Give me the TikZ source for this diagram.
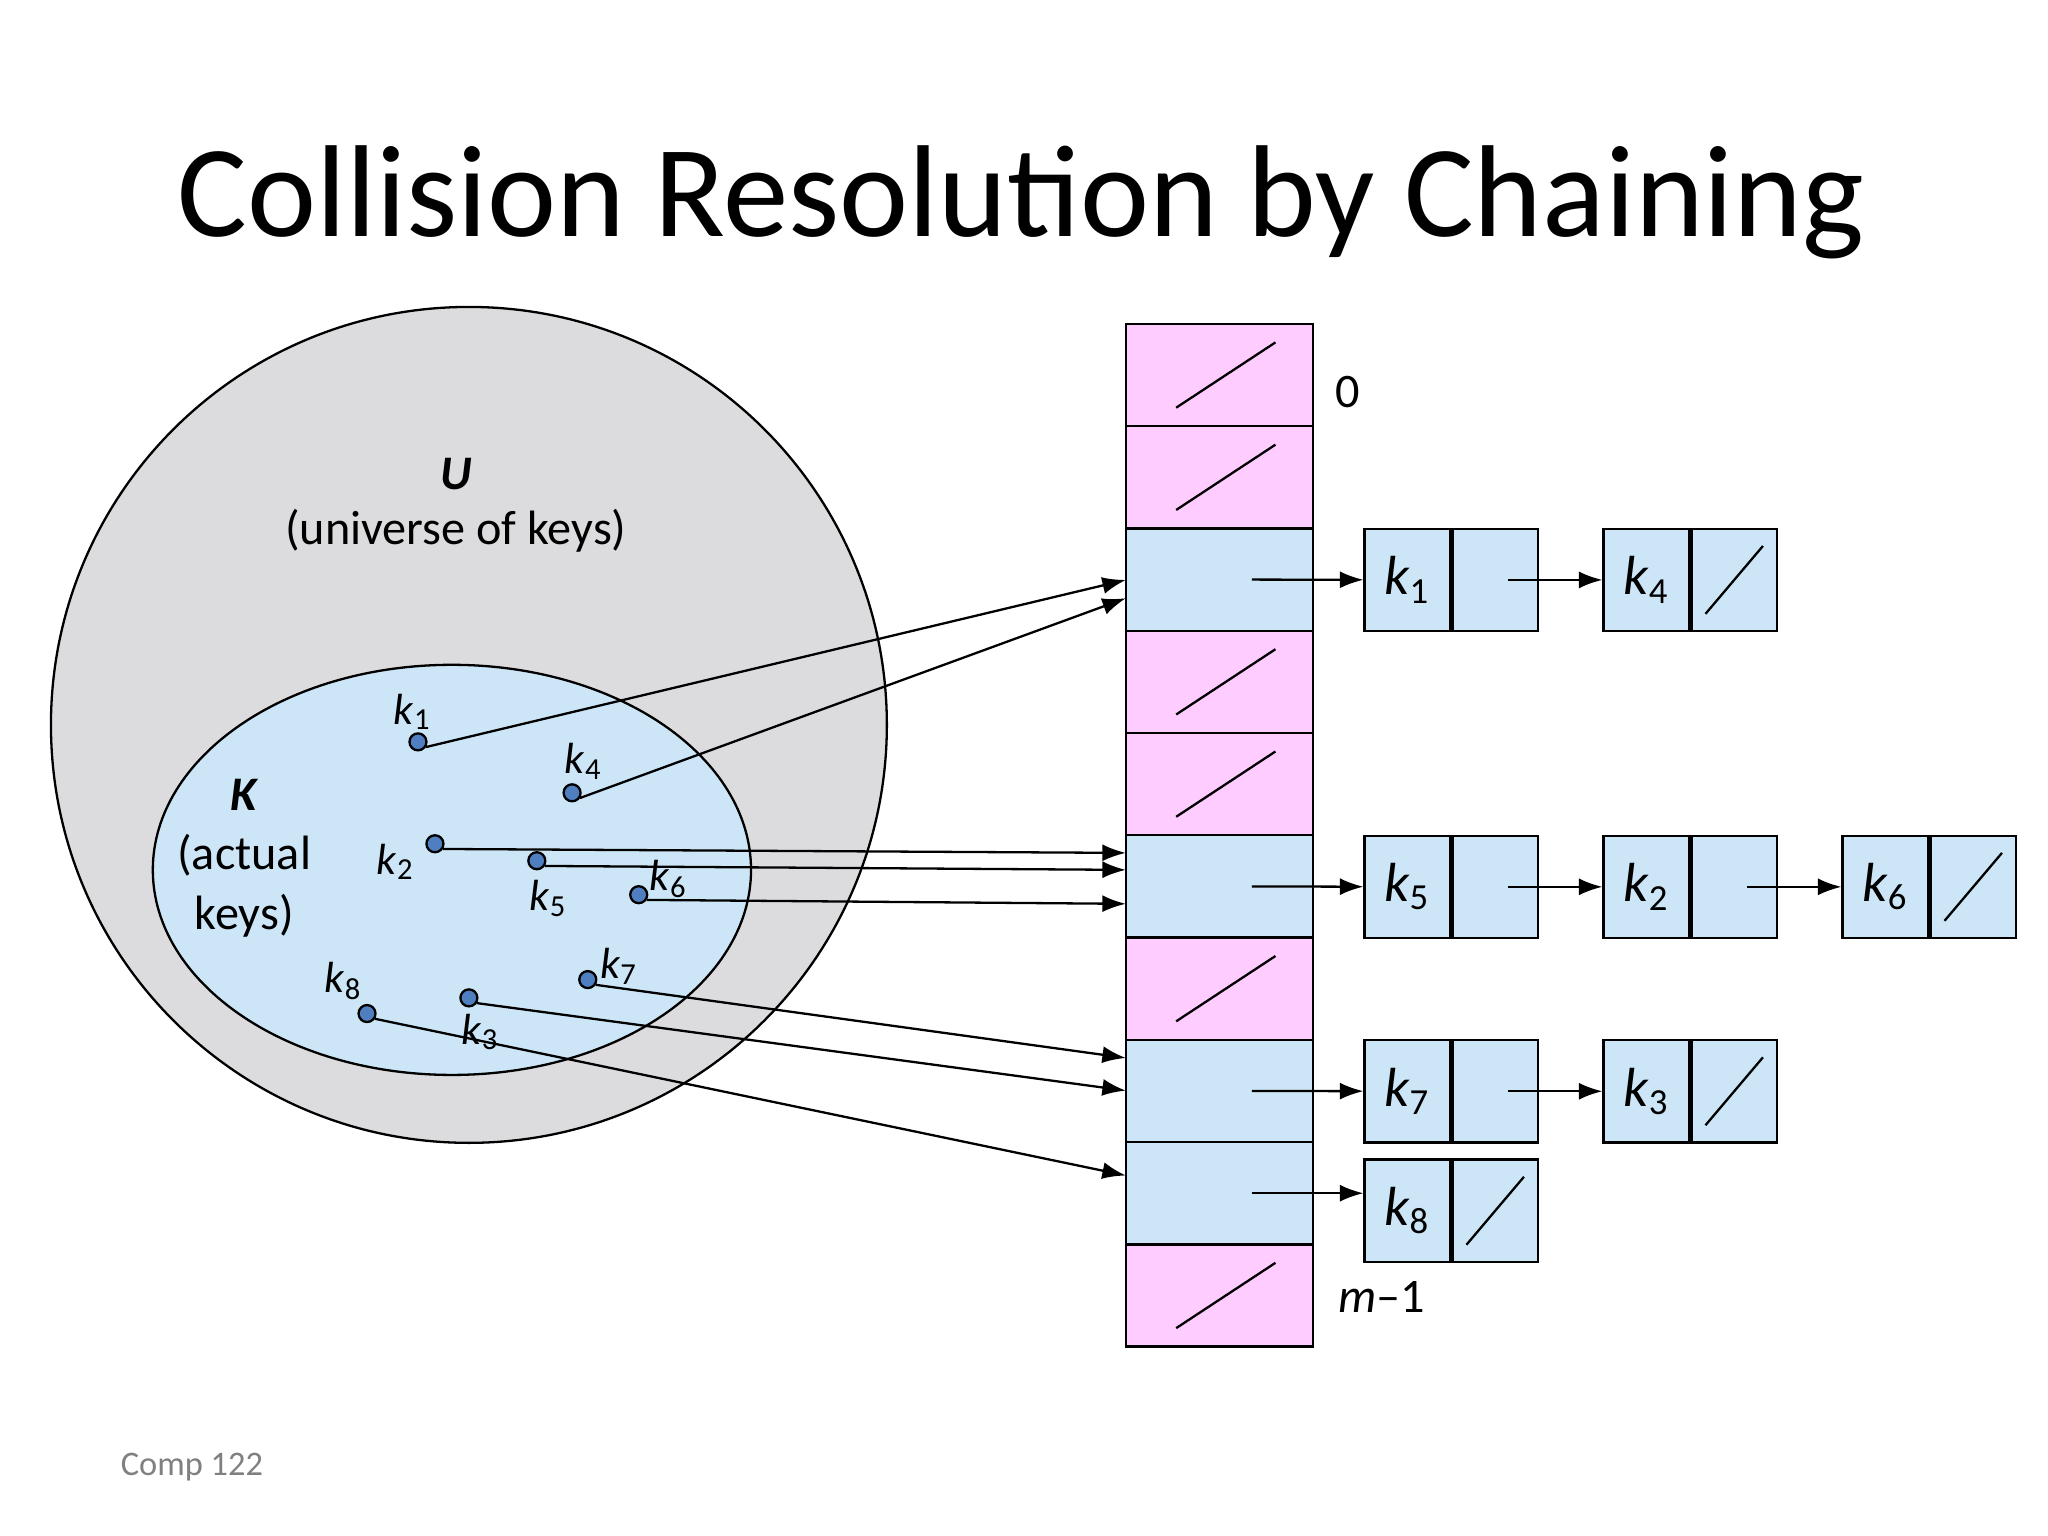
\documentclass[tikz,border=0pt]{standalone}
\usepackage{fontspec}
\setmainfont{Carlito}
\usepackage{tikz}
\usetikzlibrary{arrows.meta,positioning}
\definecolor{slotblue}{HTML}{CCE6F8}
\definecolor{slotpink}{HTML}{FFCCFF}
\definecolor{unigray}{HTML}{DCDCDE}
\definecolor{dotblue}{HTML}{4F7FC0}
\newcommand{\kk}[1]{\textit{k}\textsubscript{#1}}
\begin{document}
\begin{tikzpicture}[
    cell/.style={draw, minimum width=1.43cm, minimum height=0.783cm, inner sep=0pt},
    half/.style={draw, fill=slotblue, minimum width=0.655cm, minimum height=0.783cm, inner sep=0pt, font=\fontsize{12}{12}\selectfont},
    key/.style={circle, draw, fill=dotblue, inner sep=0pt, minimum size=0.13cm},
    klab/.style={font=\fontsize{9.5}{10}\selectfont},
    ptr/.style={-{Latex[length=1.8mm,width=1.3mm]}, line width=0.5pt},
    every path/.style={line width=0.5pt}]
  \useasboundingbox (0,0) rectangle (15.68,-11.76);
  % Title
  \node[font=\fontsize{28.5}{30}\selectfont] (title) at (7.82,-1.55) {Collision Resolution by Chaining};
  % Universe and actual keys
  \draw[fill=unigray] (3.59,-5.55) ellipse (3.2 and 3.2);
  \draw[fill=slotblue] (3.46,-6.66) ellipse (2.29 and 1.57);
  \node[font=\fontsize{10.5}{12}\selectfont, align=center] (uni) at (3.49,-3.87) {\textbf{\textit{U}}\\(universe of keys)};
  \node[font=\fontsize{10.5}{13}\selectfont, align=center] (act) at (1.87,-6.57) {\textbf{\textit{K}}\\(actual\\keys)};
  % Table
  \foreach \i/\c in {0/slotpink,1/slotpink,2/slotblue,3/slotpink,4/slotpink,5/slotblue,6/slotpink,7/slotblue,8/slotblue,9/slotpink}
    \node[cell, fill=\c] (t\i) at (9.335,-2.8715-0.783*\i) {};
  \foreach \i in {0,1,3,4,6,9}
    \draw ([xshift=-3.3mm,yshift=-2.5mm]t\i.center) -- ([xshift=4.3mm,yshift=2.5mm]t\i.center);
  \node[font=\fontsize{10.5}{12}\selectfont] (zero) at (10.32,-3.0) {0};
  \node[font=\fontsize{10.5}{12}\selectfont] (last) at (10.58,-9.93) {\textit{m}--1};
  % Chains
  \foreach \n/\x/\y/\l in {a/10.775/-4.44/1, b/12.605/-4.44/4, c/10.775/-6.79/5, d/12.605/-6.79/2, e/14.435/-6.79/6, f/10.775/-8.355/7, g/12.605/-8.355/3, h/10.775/-9.27/8}
    \node[half] (\n) at (\x,\y) {\kk{\l}};
  \foreach \n in {a,b,c,d,e,f,g,h}
    \node[half, anchor=west] (\n n) at (\n.east) {};
  \foreach \n in {b,e,g,h}
    \draw ([xshift=-2.2mm,yshift=-2.6mm]\n n.center) -- ([xshift=2.2mm,yshift=2.6mm]\n n.center);
  \draw[ptr] ([xshift=2.5mm]t2.center) -- (a);
  \draw[ptr] ([xshift=2.5mm]t5.center) -- (c);
  \draw[ptr] ([xshift=2.5mm]t7.center) -- (f);
  \draw[ptr] ([xshift=2.5mm]t8.center) -- (h.west |- t8.center);
  \draw[ptr] ([xshift=1mm]an.center) -- (b);
  \draw[ptr] ([xshift=1mm]cn.center) -- (d);
  \draw[ptr] ([xshift=1mm]dn.center) -- (e);
  \draw[ptr] ([xshift=1mm]fn.center) -- (g);
  % Keys
  \foreach \n/\x/\y in {1/3.20/-5.68, 4/4.38/-6.07, 2/3.33/-6.46, 5/4.11/-6.59, 6/4.89/-6.85, 7/4.50/-7.50, 8/2.81/-7.76, 3/3.59/-7.64}
    \node[key] (k\n) at (\x,\y) {};
  \foreach \n/\x/\y in {1/3.16/-5.45, 4/4.47/-5.83, 2/3.03/-6.60, 5/4.20/-6.88, 6/5.12/-6.73, 7/4.74/-7.40, 8/2.63/-7.51, 3/3.68/-7.90}
    \node[klab] (l\n) at (\x,\y) {\kk{\n}};
  \coordinate (p1) at (8.62,-4.44);
  \coordinate (p4) at (8.62,-4.58);
  \coordinate (p2) at (8.62,-6.53);
  \coordinate (p5) at (8.62,-6.66);
  \coordinate (p6) at (8.62,-6.92);
  \coordinate (p7) at (8.62,-8.10);
  \coordinate (p3) at (8.62,-8.35);
  \coordinate (p8) at (8.62,-9.00);
  \foreach \n in {1,...,8}
    \draw[ptr] ([xshift=0.6mm,yshift=-0.4mm]k\n.center) -- (p\n);
  % Footer
  \node[font=\fontsize{7.5}{9}\selectfont, text=gray] (foot) at (1.47,-11.23) {Comp 122};
\end{tikzpicture}
\end{document}
